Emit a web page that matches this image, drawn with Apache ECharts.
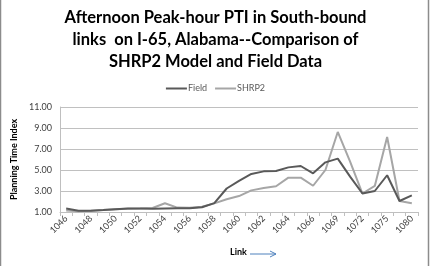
<!DOCTYPE html>
<html><head><meta charset="utf-8">
<script src="https://cdn.jsdelivr.net/npm/echarts@6/dist/echarts.min.js"></script>
<style>html,body{margin:0;padding:0;background:#fff;}#c{width:431px;height:266px;}</style>
</head><body><div id="c"></div>
<script>
const categories = ['1046','1047','1048','1049','1050','1051','1052','1053','1054','1055','1056','1057','1058','1059','1060','1061','1062','1063','1064','1065','1066','1067','1069','1070','1072','1073','1075','1077','1080'];
const fieldValues = [1.33,1.12,1.12,1.19,1.27,1.33,1.33,1.3,1.33,1.36,1.36,1.45,1.85,3.24,3.97,4.62,4.87,4.9,5.25,5.38,4.68,5.73,6.08,4.37,2.76,3.0,4.5,2.05,2.59];
const shrp2Values = [1.15,1.08,1.12,1.18,1.27,1.32,1.33,1.38,1.83,1.42,1.4,1.5,1.82,2.22,2.52,3.06,3.29,3.45,4.27,4.27,3.5,5.0,8.62,5.79,2.76,3.48,8.14,2.05,1.83];
const yTicks = {min:1, max:11, interval:2};

const chart = echarts.init(document.getElementById('c'));
chart.setOption({
  animation:false,
  title:{
    text:'Afternoon Peak-hour PTI in South-bound\nlinks  on I-65, Alabama--Comparison of\nSHRP2 Model and Field Data',
    left:'center', top:2,
    textStyle:{fontFamily:'Lato', fontWeight:'bold', fontSize:16.5, lineHeight:22, color:'#000'}
  },
  legend:{
    top:79, left:'center', itemWidth:21, itemHeight:2, itemGap:8, icon:'rect',
    textStyle:{fontFamily:'Lato', fontSize:9, color:'#595959', padding:[0,0,0,-4]},
    data:['Field','SHRP2']
  },
  grid:{left:60, right:13, top:107, bottom:54},
  xAxis:{
    type:'category', data:categories, boundaryGap:true,
    axisLine:{lineStyle:{color:'#bfbfbf'}},
    axisTick:{show:true, interval:0, length:4, lineStyle:{color:'#bfbfbf'}},
    axisLabel:{interval:1, rotate:45, fontFamily:'Lato', fontSize:9, color:'#404040', margin:5}
  },
  yAxis:{
    type:'value', min:yTicks.min, max:yTicks.max, interval:yTicks.interval,
    name:'Planning Time Index', nameLocation:'middle', nameGap:37, nameRotate:90,
    nameTextStyle:{fontFamily:'Lato', fontWeight:'bold', fontSize:9, color:'#000'},
    axisLine:{show:true, lineStyle:{color:'#bfbfbf'}},
    axisTick:{show:false},
    splitLine:{lineStyle:{color:'#c0c0c0', width:1}},
    axisLabel:{formatter:v=>v.toFixed(2), fontFamily:'Lato', fontSize:9, color:'#404040', margin:8}
  },
  series:[
    {name:'Field', type:'line', data:fieldValues, symbol:'none', lineStyle:{color:'#595959', width:2}, itemStyle:{color:'#595959'}, z:3},
    {name:'SHRP2', type:'line', data:shrp2Values, symbol:'none', lineStyle:{color:'#a6a6a6', width:2}, itemStyle:{color:'#a6a6a6'}, z:2}
  ],
  graphic:[
    {type:'rect', shape:{x:0.5, y:-5, width:428, height:290}, style:{fill:'none', stroke:'#8c8c8c', lineWidth:1.5}, silent:true},
    {type:'text', left:230, top:248, style:{text:'Link', font:'bold 9px Lato', fill:'#000'}},
    {type:'line', shape:{x1:250, y1:254, x2:276, y2:254}, style:{stroke:'#4f81bd', lineWidth:1}},
    {type:'polyline', shape:{points:[[270,251],[276,254],[270,257]]}, style:{stroke:'#4f81bd', lineWidth:1, fill:'none'}}
  ]
});
</script></body></html>
